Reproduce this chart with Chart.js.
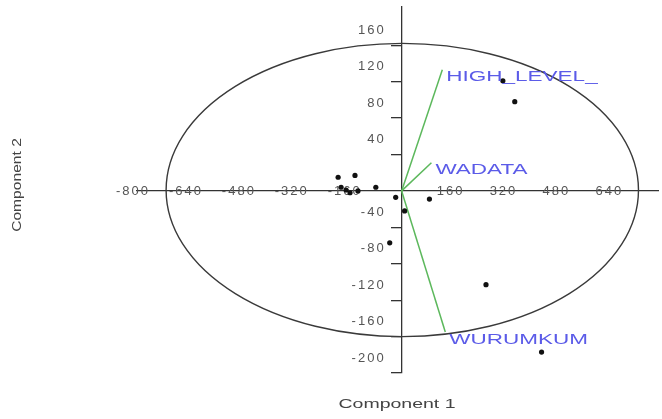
<!DOCTYPE html>
<html>
<head>
<meta charset="utf-8">
<script src="https://cdn.jsdelivr.net/npm/chart.js@4/dist/chart.umd.min.js"></script>
<style>
  html, body { margin: 0; padding: 0; background: #fff; overflow: hidden; }
  #wrap { width: 662px; height: 419px; }
</style>
</head>
<body>
<div id="wrap"><canvas id="c" width="662" height="419"></canvas></div>
<script>
// PCA scores: Component 1 / Component 2
const scoreX = [-192, -141, -183, -168, -156, -132, -78, -18, 84, 9, -36, 255, 423, 306, 342];
const scoreY = [15, 17, 4, 1, -2, 0, 4, -7, -9, -22, -57, -103, -177, 121, 98];

// Variable loadings, drawn as vectors from the origin
const loadingNames = ['HIGH_LEVEL_', 'WADATA', 'WURUMKUM'];
const loadingX = [123, 90, 132];
const loadingY = [133, 31, -155];

// Tick values shown on the two axes
const xTicks = [-800, -640, -480, -320, -160, 160, 320, 480, 640];
const yTicks = [-200, -160, -120, -80, -40, 40, 80, 120, 160];

// Confidence ellipse: centre and semi-axes in data units
const ellipseCentre = [2, 1];
const ellipseRadii = [714, 161];

const axisTitleX = 'Component 1';
const axisTitleY = 'Component 2';

const loadingSets = loadingNames.map((name, i) => ({
  type: 'line',
  label: name,
  data: [{ x: 0, y: 0 }, { x: loadingX[i], y: loadingY[i] }],
  borderColor: '#5cb85c',
  borderWidth: 1.5,
  pointRadius: 0,
  fill: false
}));

const overlay = {
  id: 'overlay',
  beforeDraw(chart) {
    chart.ctx.letterSpacing = '2px';
  },
  beforeDatasetsDraw(chart) {
    const { ctx, scales: { x, y } } = chart;
    const cx = x.getPixelForValue(ellipseCentre[0]);
    const cy = y.getPixelForValue(ellipseCentre[1]);
    const rx = Math.abs(x.getPixelForValue(ellipseCentre[0] + ellipseRadii[0]) - cx);
    const ry = Math.abs(y.getPixelForValue(ellipseCentre[1] + ellipseRadii[1]) - cy);
    ctx.save();
    ctx.beginPath();
    ctx.ellipse(cx, cy, rx, ry, 0, 0, Math.PI * 2);
    ctx.strokeStyle = '#3a3a3a';
    ctx.lineWidth = 1.4;
    ctx.stroke();
    ctx.restore();
  },
  afterDatasetsDraw(chart) {
    const { ctx, scales: { x, y } } = chart;
    ctx.save();

    // vertical axis labels, set back from the tick marks and raised above them
    const axisPx = x.getPixelForValue(0);
    ctx.letterSpacing = '2px';
    ctx.font = '13px Arial';
    ctx.fillStyle = '#555';
    ctx.textAlign = 'right';
    ctx.textBaseline = 'middle';
    yTicks.forEach(v => {
      ctx.fillText(String(v), axisPx - 16, y.getPixelForValue(v) - 15);
    });

    // loading vector names
    ctx.letterSpacing = '0px';
    ctx.font = '15px Arial';
    ctx.fillStyle = '#5b5be8';
    ctx.textBaseline = 'top';
    ctx.textAlign = 'left';
    loadingNames.forEach((name, i) => {
      const px = x.getPixelForValue(loadingX[i]) + 4;
      const py = y.getPixelForValue(loadingY[i]);
      ctx.save();
      ctx.translate(px, py);
      ctx.scale(1.5, 1);
      ctx.fillText(name, 0, 0);
      ctx.restore();
    });

    // axis titles
    ctx.fillStyle = '#444';
    ctx.textBaseline = 'middle';
    ctx.textAlign = 'center';
    ctx.font = '13px Arial';
    ctx.save();
    ctx.translate(397, 404);
    ctx.scale(1.5, 1);
    ctx.fillText(axisTitleX, 0, 0);
    ctx.restore();
    ctx.save();
    ctx.translate(17, 185);
    ctx.rotate(-Math.PI / 2);
    ctx.scale(1.2, 1);
    ctx.fillText(axisTitleY, 0, 0);
    ctx.restore();
    ctx.restore();
  },
  afterDraw(chart) {
    chart.ctx.letterSpacing = '0px';
  }
};

new Chart(document.getElementById('c'), {
  type: 'scatter',
  data: {
    datasets: [
      {
        label: 'Scores',
        data: scoreX.map((v, i) => ({ x: v, y: scoreY[i] })),
        backgroundColor: '#111',
        borderColor: '#111',
        pointRadius: 2.6,
        borderWidth: 0
      },
      ...loadingSets
    ]
  },
  options: {
    responsive: false,
    animation: false,
    devicePixelRatio: 1,
    layout: { padding: { left: 137, right: 0, top: 7, bottom: 46 } },
    plugins: { legend: { display: false }, tooltip: { enabled: false } },
    scales: {
      x: {
        type: 'linear',
        min: -800,
        max: 775,
        position: { y: 0 },
        afterBuildTicks: s => { s.ticks = xTicks.map(v => ({ value: v })); },
        afterFit: s => { s.paddingLeft = 0; s.paddingRight = 0; },
        grid: { display: false, drawTicks: false },
        border: { display: true, color: '#333', width: 1.3 },
        ticks: {
          font: { family: 'Arial', size: 13 },
          color: '#555',
          padding: -7,
          labelOffset: -4,
          maxRotation: 0,
          autoSkip: false
        }
      },
      y: {
        type: 'linear',
        min: -200,
        max: 202,
        position: { x: 0 },
        afterBuildTicks: s => { s.ticks = yTicks.map(v => ({ value: v })); },
        afterFit: s => { s.paddingTop = 0; s.paddingBottom = 0; },
        grid: { display: true, drawOnChartArea: false, drawTicks: true, tickLength: 10, color: '#333', lineWidth: 1.3 },
        border: { display: true, color: '#333', width: 1.3 },
        ticks: { display: false }
      }
    }
  },
  plugins: [overlay]
});
</script>
</body>
</html>
